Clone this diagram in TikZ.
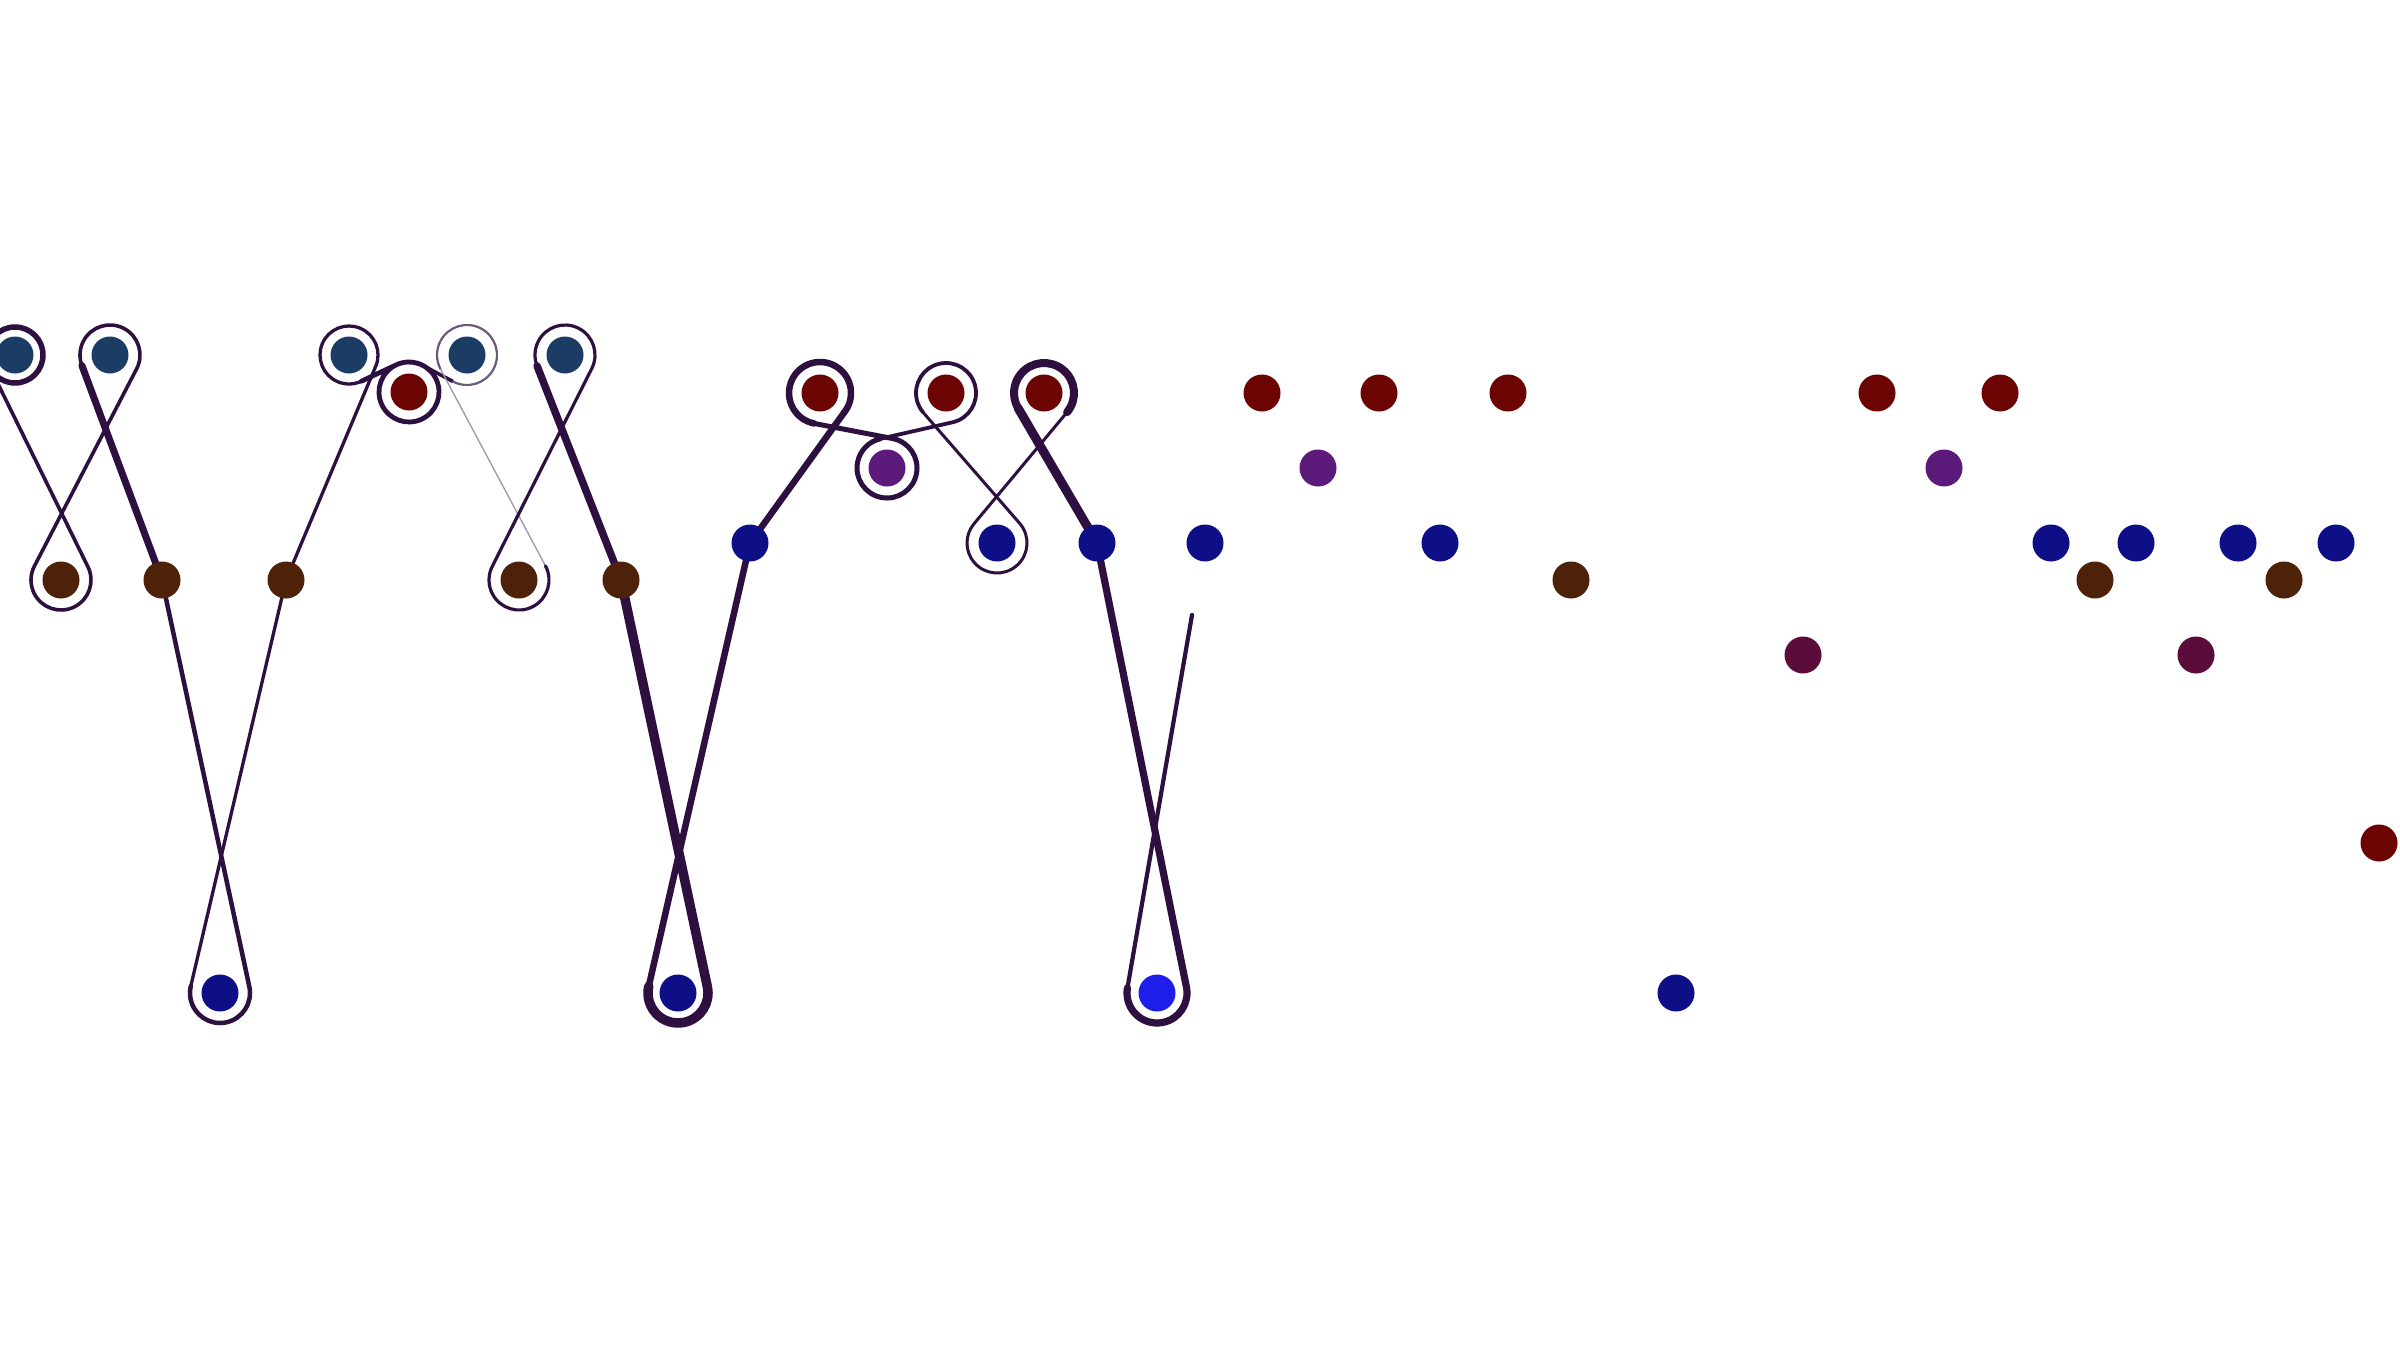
\documentclass[tikz,border=0pt]{standalone}
\usepackage{tikz}
\usetikzlibrary{calc, backgrounds}

\definecolor{ropec}{RGB}{45,16,64}
\definecolor{tealc}{RGB}{27,60,100}
\definecolor{redc}{RGB}{108,4,4}
\definecolor{purc}{RGB}{92,26,122}
\definecolor{navyc}{RGB}{14,14,135}
\definecolor{brownc}{RGB}{78,34,8}
\definecolor{maroonc}{RGB}{92,12,58}
\definecolor{brightc}{RGB}{30,30,235}

\begin{document}
\begin{tikzpicture}[x=0.1mm, y=-0.1mm,
    bead/.style={circle, fill=#1, inner sep=0pt, minimum size=3.7mm},
    rope/.style={draw=ropec, line cap=round, line join=round}]
\useasboundingbox (0,0) rectangle (2400,1350);
% beads on the top row
\node[bead=tealc] (T1) at (15,355) {};
\node[bead=tealc] (T2) at (110,355) {};
\node[bead=tealc] (T3) at (349,355) {};
\node[bead=tealc] (T4) at (467,355) {};
\node[bead=tealc] (T5) at (565,355) {};
\node[bead=redc] (R1) at (409,392) {};
\node[bead=redc] (R2) at (820,393) {};
\node[bead=redc] (R3) at (946,393) {};
\node[bead=redc] (R4) at (1044,393) {};
\node[bead=redc] (R5) at (1262,393) {};
\node[bead=redc] (R6) at (1379,393) {};
\node[bead=redc] (R7) at (1508,393) {};
\node[bead=redc] (R8) at (1877,393) {};
\node[bead=redc] (R9) at (2000,393) {};
\node[bead=redc] (R10) at (2379,843) {};
\node[bead=purc] (P1) at (887,468) {};
\node[bead=purc] (P2) at (1318,468) {};
\node[bead=purc] (P3) at (1944,468) {};
% middle rows
\node[bead=navyc] (U1) at (750,543) {};
\node[bead=navyc] (U2) at (997,543) {};
\node[bead=navyc] (U3) at (1097,543) {};
\node[bead=navyc] (U4) at (1205,543) {};
\node[bead=navyc] (U5) at (1440,543) {};
\node[bead=navyc] (U6) at (2051,543) {};
\node[bead=navyc] (U7) at (2136,543) {};
\node[bead=navyc] (U8) at (2238,543) {};
\node[bead=navyc] (U9) at (2336,543) {};
\node[bead=brownc] (B1) at (61,580) {};
\node[bead=brownc] (B2) at (162,580) {};
\node[bead=brownc] (B3) at (286,580) {};
\node[bead=brownc] (B4) at (519,580) {};
\node[bead=brownc] (B5) at (621,580) {};
\node[bead=brownc] (B6) at (1571,580) {};
\node[bead=brownc] (B7) at (2095,580) {};
\node[bead=brownc] (B8) at (2284,580) {};
\node[bead=maroonc] (M1) at (1803,655) {};
\node[bead=maroonc] (M2) at (2196,655) {};
% bottom row
\node[bead=navyc] (D1) at (220,993) {};
\node[bead=navyc] (D2) at (678,993) {};
\node[bead=brightc] (D3) at (1157,993) {};
\node[bead=navyc] (D4) at (1676,993) {};
\coordinate (E) at (1192,615);

% the cord, behind the beads
\begin{scope}[on background layer]
\fill[white] (0,0) rectangle (2400,1350);
\draw[rope, line width=0.55mm] (T1.center) circle[radius=28];
\draw[rope, line width=0.36mm] ($(T1)+(153.7:28)$) -- ($(B1)+(-26.3:30)$)
    arc[start angle=-26.3, end angle=207.3, radius=30] -- ($(T2)+(27.3:30)$)
    arc[start angle=27.3, end angle=-200.6, radius=30];
\draw[rope, line width=0.7mm] ($(T2)+(159.4:30)$) -- (B2.center);
\draw[rope, line width=0.45mm] (B2.center) -- ($(D1)+(-12.1:30)$)
    arc[start angle=-12.1, end angle=193.1, radius=30];
\draw[rope, line width=0.33mm] ($(D1)+(193.1:30)$) -- (B3.center) -- ($(T3)+(23.1:29)$)
    arc[start angle=23.1, end angle=-295.1, radius=29];
\draw[rope, line width=0.48mm] ($(T3)+(64.9:29)$) -- ($(R1)+(244.9:30)$)
    arc[start angle=244.9, end angle=658.3, radius=30];
\draw[rope, line width=0.35mm] ($(R1)+(-61.7:30)$) -- ($(T4)+(118.3:30)$);
\draw[rope, draw=ropec!70, line width=0.22mm] ($(T4)+(118.3:30)$)
    arc[start angle=118.3, end angle=-208.2, radius=30];
\draw[rope, draw=ropec!45, line width=0.13mm] ($(T4)+(151.8:30)$) -- ($(B4)+(-28.2:30)$);
\draw[rope, line width=0.32mm] ($(B4)+(-28.2:30)$)
    arc[start angle=-28.2, end angle=206.9, radius=30] -- ($(T5)+(27:30)$)
    arc[start angle=27, end angle=-201.5, radius=30];
\draw[rope, line width=0.75mm] ($(T5)+(158.5:30)$) -- (B5.center);
\draw[rope, line width=0.95mm] (B5.center) -- ($(D2)+(-12:30)$)
    arc[start angle=-12, end angle=192.9, radius=30];
\draw[rope, line width=0.65mm] ($(D2)+(192.9:30)$) -- (U1.center) -- ($(R2)+(35.7:31)$)
    arc[start angle=35.7, end angle=-259, radius=31];
\draw[rope, line width=0.5mm] ($(R2)+(101:31)$) -- ($(P1)+(-79:30)$)
    arc[start angle=-79, end angle=257.1, radius=30];
\draw[rope, line width=0.38mm] ($(P1)+(257.1:30)$) -- ($(R3)+(77.1:30)$)
    arc[start angle=77.1, end angle=-220.7, radius=30];
\draw[rope, line width=0.3mm] ($(R3)+(139.3:30)$) -- ($(U2)+(-40.7:30)$)
    arc[start angle=-40.7, end angle=219.7, radius=30] -- ($(R4)+(39.7:30)$);
\draw[rope, line width=0.8mm] ($(R4)+(39.7:30)$) arc[start angle=39.7, end angle=-210.2, radius=30];
\draw[rope, line width=0.9mm] ($(R4)+(149.8:30)$) -- (U3.center);
\draw[rope, line width=0.72mm] (U3.center) -- ($(D3)+(-11.4:30)$)
    arc[start angle=-11.4, end angle=189.8, radius=30];
\draw[rope, line width=0.42mm] ($(D3)+(189.8:30)$) -- (E);
\end{scope}
\end{tikzpicture}
\end{document}
